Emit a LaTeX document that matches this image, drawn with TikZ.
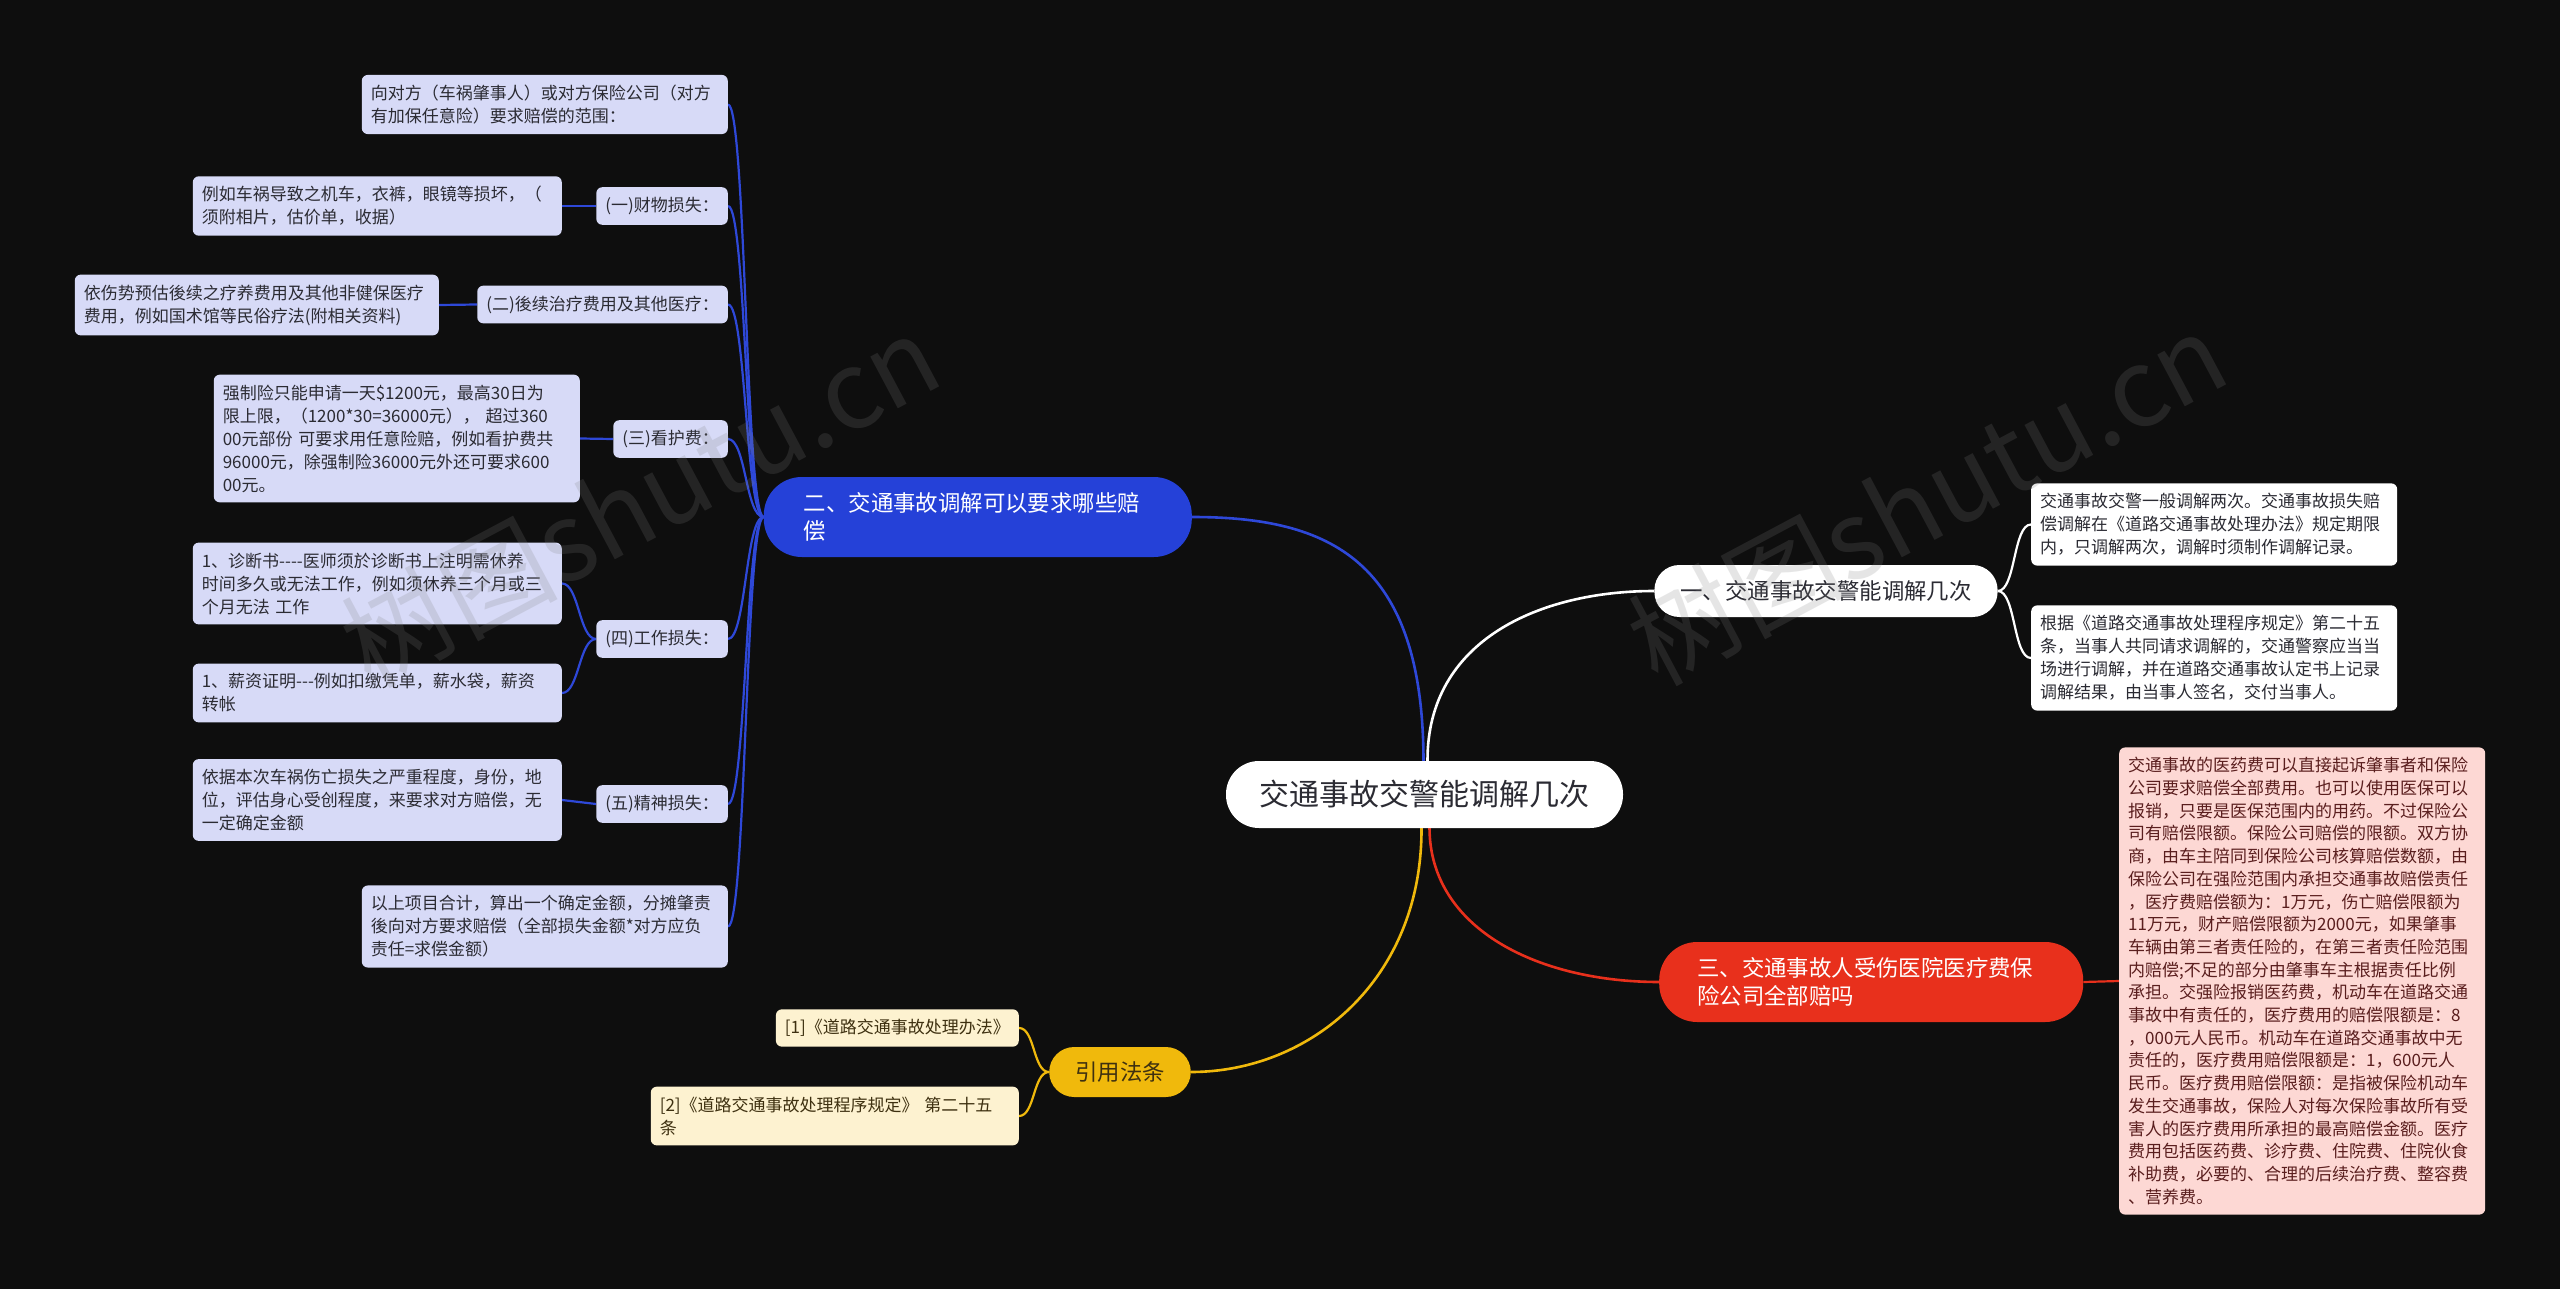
\documentclass[tikz,border=0pt]{standalone}
\usepackage{fontspec}
\setmainfont[Ligatures=TeXOff]{Noto Sans CJK SC}
\usetikzlibrary{positioning}
\usetikzlibrary{backgrounds}
\definecolor{bgblack}{HTML}{0E0E0E}
\definecolor{blueline}{HTML}{2E48D8}
\definecolor{bluefill}{HTML}{2541D8}
\definecolor{lavender}{HTML}{D7DAF7}
\definecolor{redfill}{HTML}{E8301C}
\definecolor{pinkfill}{HTML}{FDD8D4}
\definecolor{pinktext}{HTML}{5A1E1E}
\definecolor{goldfill}{HTML}{F0B90C}
\definecolor{creamfill}{HTML}{FDF2D0}
\definecolor{browntext}{HTML}{3E3010}
\definecolor{darktext}{HTML}{2B2B33}
\tikzset{rootbox/.style={fill=white, rounded corners=33pt, minimum width=397pt, minimum height=67pt, inner sep=0pt, text=darktext, font=\fontsize{30}{36}\selectfont}}
\tikzset{mainbox/.style={rounded corners=25pt, minimum height=52pt, inner xsep=26pt, inner ysep=0pt, font=\fontsize{22.4}{28}\selectfont}}
\tikzset{widebox/.style={mainbox, align=left, text width=348pt, inner xsep=40pt, minimum height=80pt, rounded corners=38pt, text=white}}
\tikzset{leafbox/.style={rounded corners=6pt, font=\fontsize{17}{23}\selectfont, inner xsep=9pt, inner ysep=10pt, align=left}}
\tikzset{lavbox/.style={leafbox, fill=lavender, text=darktext}}
\tikzset{link/.style={line width=2.6pt}}
\tikzset{sublink/.style={line width=2.2pt}}
\tikzset{watermark/.style={rotate=28, text=gray, opacity=0.2, font=\fontsize{108}{108}\selectfont\itshape}}

\begin{document}
\begin{tikzpicture}[x=1pt,y=-1pt]
	\useasboundingbox (0,0) rectangle (2560,1289);
	% centre and the four branches
	\node[rootbox] (root) at (1424.5,794.5) {交通事故交警能调解几次};
	\node[mainbox, fill=white, text=darktext, minimum width=338pt] (one) at (1826,591) {一、交通事故交警能调解几次};
	\node[widebox, fill=bluefill, anchor=east] (two) at (1192,517) {二、交通事故调解可以要求哪些赔\\偿};
	\node[widebox, fill=redfill, anchor=west, inner xsep=38pt] (three) at (1659,982) {三、交通事故人受伤医院医疗费保\\险公司全部赔吗};
	\node[mainbox, fill=goldfill, text=browntext, minimum width=140pt, minimum height=50pt] (law) at (1120,1072) {引用法条};

	% branch one
	\node[leafbox, fill=white, text=darktext, text width=348pt, anchor=west] (oneA) at (2031,524.5) {交通事故交警一般调解两次。交通事故损失赔\\偿调解在《道路交通事故处理办法》规定期限\\内，只调解两次，调解时须制作调解记录。};
	\node[leafbox, fill=white, text=darktext, text width=348pt, anchor=west] (oneB) at (2031,658) {根据《道路交通事故处理程序规定》第二十五\\条，当事人共同请求调解的，交通警察应当当\\场进行调解，并在道路交通事故认定书上记录\\调解结果，由当事人签名，交付当事人。};

	% branch two
	\node[lavbox, text width=348pt, anchor=east] (twoA) at (728,104.5) {向对方（车祸肇事人）或对方保险公司（对方\\有加保任意险）要求赔偿的范围：};
	\node[lavbox, anchor=east] (twoB) at (728,206) {(一)财物损失：};
	\node[lavbox, text width=351pt, anchor=east] (twoBx) at (562,206) {例如车祸导致之机车，衣裤，眼镜等损坏，（\\须附相片，估价单，收据）};
	\node[lavbox, anchor=east] (twoC) at (728,304.5) {(二)後续治疗费用及其他医疗：};
	\node[lavbox, text width=346pt, anchor=east] (twoCx) at (439,305) {依伤势预估後续之疗养费用及其他非健保医疗\\费用，例如国术馆等民俗疗法(附相关资料)};
	\node[lavbox, anchor=east] (twoD) at (728,439) {(三)看护费：};
	\node[lavbox, text width=348pt, anchor=east] (twoDx) at (580,438.5) {强制险只能申请一天\$1200元，最高30日为\\限上限，（1200*30=36000元）， 超过360\\00元部份 可要求用任意险赔，例如看护费共\\96000元，除强制险36000元外还可要求600\\00元。};
	\node[lavbox, anchor=east] (twoE) at (728,639) {(四)工作损失：};
	\node[lavbox, text width=351pt, anchor=east] (twoEx) at (562,583.5) {1、诊断书----医师须於诊断书上注明需休养\\时间多久或无法工作，例如须休养三个月或三\\个月无法 工作};
	\node[lavbox, text width=351pt, anchor=east] (twoEy) at (562,693) {1、薪资证明---例如扣缴凭单，薪水袋，薪资\\转帐};
	\node[lavbox, anchor=east] (twoF) at (728,804) {(五)精神损失：};
	\node[lavbox, text width=351pt, anchor=east] (twoFx) at (562,800) {依据本次车祸伤亡损失之严重程度，身份，地\\位，评估身心受创程度，来要求对方赔偿，无\\一定确定金额};
	\node[lavbox, text width=348pt, anchor=east] (twoG) at (728,926.5) {以上项目合计，算出一个确定金额，分摊肇责\\後向对方要求赔偿（全部损失金额*对方应负\\责任=求偿金额）};

	% branch three
	\node[leafbox, fill=pinkfill, text=pinktext, text width=348pt, anchor=west, font=\fontsize{17}{22.7}\selectfont] (threeA) at (2119,981) {交通事故的医药费可以直接起诉肇事者和保险\\公司要求赔偿全部费用。也可以使用医保可以\\报销，只要是医保范围内的用药。不过保险公\\司有赔偿限额。保险公司赔偿的限额。双方协\\商，由车主陪同到保险公司核算赔偿数额，由\\保险公司在强险范围内承担交通事故赔偿责任\\，医疗费赔偿额为：1万元，伤亡赔偿限额为\\11万元，财产赔偿限额为2000元，如果肇事\\车辆由第三者责任险的，在第三者责任险范围\\内赔偿;不足的部分由肇事车主根据责任比例\\承担。交强险报销医药费，机动车在道路交通\\事故中有责任的，医疗费用的赔偿限额是：8\\，000元人民币。机动车在道路交通事故中无\\责任的，医疗费用赔偿限额是：1，600元人\\民币。医疗费用赔偿限额：是指被保险机动车\\发生交通事故，保险人对每次保险事故所有受\\害人的医疗费用所承担的最高赔偿金额。医疗\\费用包括医药费、诊疗费、住院费、住院伙食\\补助费，必要的、合理的后续治疗费、整容费\\、营养费。};

	% law branch
	\node[leafbox, fill=creamfill, text=browntext, anchor=east] (lawA) at (1019,1028) {[1]《道路交通事故处理办法》};
	\node[leafbox, fill=creamfill, text=browntext, text width=350pt, anchor=east] (lawB) at (1019,1116) {[2]《道路交通事故处理程序规定》 第二十五\\条};

	\begin{scope}[on background layer]
		\fill[bgblack] (0,0) rectangle (2560,1289);
		\draw[link, draw=white] ([xshift=3pt]root.north) .. controls (1427,640) and (1540,591) .. (one.west);
		\draw[link, draw=blueline] ([xshift=-1pt]root.north) .. controls (1423,560) and (1330,517) .. (two.east);
		\draw[link, draw=redfill] ([xshift=5pt]root.south) .. controls (1430,930) and (1540,982) .. (three.west);
		\draw[link, draw=goldfill] ([xshift=-3pt]root.south) .. controls (1422,980) and (1310,1072) .. (law.east);
		\foreach \n in {oneA,oneB}
			\draw[sublink, draw=white] (one.east) .. controls +(18,0) and +(-18,0) .. (\n.west);
		\foreach \n in {twoA,twoB,twoC,twoD,twoE,twoF,twoG}
			\draw[sublink, draw=blueline] (two.west) .. controls +(-18,0) and +(18,0) .. (\n.east);
		\draw[sublink, draw=blueline] (twoB.west) -- (twoBx.east);
		\draw[sublink, draw=blueline] (twoC.west) -- (twoCx.east);
		\draw[sublink, draw=blueline] (twoD.west) -- (twoDx.east);
		\draw[sublink, draw=blueline] (twoF.west) -- (twoFx.east);
		\foreach \n in {twoEx,twoEy}
			\draw[sublink, draw=blueline] (twoE.west) .. controls +(-17,0) and +(17,0) .. (\n.east);
		\draw[sublink, draw=redfill] (three.east) -- (threeA.west);
		\foreach \n in {lawA,lawB}
			\draw[sublink, draw=goldfill] (law.west) .. controls +(-16,0) and +(16,0) .. (\n.east);
	\end{scope}

	% watermarks
	\node[watermark] (markL) at (640,500) {树图shutu.cn};
	\node[watermark] (markR) at (1927,498) {树图shutu.cn};
\end{tikzpicture}
\end{document}
